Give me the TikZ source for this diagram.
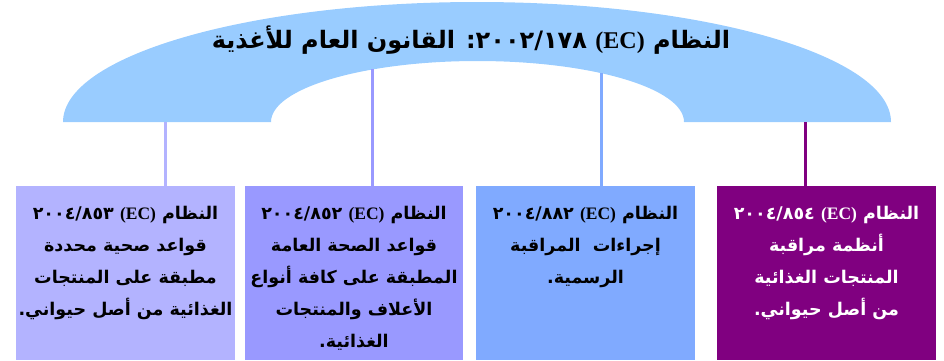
\documentclass[tikz,border=0pt]{standalone}
\usepackage{fontspec}
\setmainfont{Liberation Serif}
\newfontfamily\arabicfont[Script=Arabic]{DejaVu Sans}
\TeXXeTstate=1
\definecolor{archcol}{HTML}{99CCFF}
\definecolor{c1}{HTML}{B3B3FF}
\definecolor{c2}{HTML}{9999FF}
\definecolor{c3}{HTML}{80AAFF}
\definecolor{c4}{HTML}{800080}
\newcommand{\EC}{\beginL{\rmfamily\bfseries (EC)}\endL}
\newcommand{\LTR}[1]{\beginL #1\endL}
\tikzset{
  boxnode/.style={draw=none, inner sep=0pt, anchor=north},
  conn/.style={line width=3pt},
  titlenode/.style={inner sep=0pt, font=\arabicfont\bfseries\fontsize{24}{28}\selectfont}
}
\newcommand{\boxtext}[3]{\parbox[c][174pt][t]{#1}{\vspace{20pt}\centering\arabicfont\bfseries\fontsize{17.5}{32}\selectfont #3}}
\begin{document}
\begin{tikzpicture}[x=1pt,y=1pt]
\useasboundingbox (0,0) rectangle (944,-360);
% arch
\fill[archcol] (63,-122) arc[start angle=180,end angle=0,x radius=414pt,y radius=120pt]
  -- (684,-122) arc[start angle=0,end angle=180,x radius=206.5pt,y radius=61pt] -- cycle;
\node[titlenode] (title) at (471,-40) {\beginR النظام \EC{} \LTR{٢٠٠٢/١٧٨}: القانون العام للأغذية\endR};
% boxes
\node[boxnode, fill=c1, minimum width=219pt, minimum height=174pt] (b1) at (125.5,-186)
  {\boxtext{219pt}{}{\beginR النظام \EC{} \LTR{٢٠٠٤/٨٥٣}\endR\\ \beginR قواعد صحية محددة\endR\\ \beginR مطبقة على المنتجات\endR\\ \beginR الغذائية من أصل حيواني.\endR}};
\node[boxnode, fill=c2, minimum width=218pt, minimum height=174pt] (b2) at (354,-186)
  {\boxtext{218pt}{}{\beginR النظام \EC{} \LTR{٢٠٠٤/٨٥٢}\endR\\ \beginR قواعد الصحة العامة\endR\\ \beginR المطبقة على كافة أنواع\endR\\ \beginR الأعلاف والمنتجات\endR\\ \beginR الغذائية.\endR}};
\node[boxnode, fill=c3, minimum width=219pt, minimum height=174pt] (b3) at (585.5,-186)
  {\boxtext{219pt}{}{\beginR النظام \EC{} \LTR{٢٠٠٤/٨٨٢}\endR\\ \beginR إجراءات\ \ المراقبة\endR\\ \beginR الرسمية.\endR}};
\node[boxnode, fill=c4, text=white, minimum width=219pt, minimum height=174pt] (b4) at (826.5,-186)
  {\boxtext{219pt}{}{\color{white}\beginR النظام \EC{} \LTR{٢٠٠٤/٨٥٤}\endR\\ \beginR أنظمة مراقبة\endR\\ \beginR المنتجات الغذائية\endR\\ \beginR من أصل حيواني.\endR}};
% connector tops
\coordinate (t1) at (165,-122);
\coordinate (t2) at (372,-69);
\coordinate (t3) at (601,-73);
\coordinate (t4) at (805,-122);
\draw[conn, c1] (t1) -- (t1 |- b1.north);
\draw[conn, c2] (t2) -- (t2 |- b2.north);
\draw[conn, c3] (t3) -- (t3 |- b3.north);
\draw[conn, c4] (t4) -- (t4 |- b4.north);
\end{tikzpicture}
\end{document}
